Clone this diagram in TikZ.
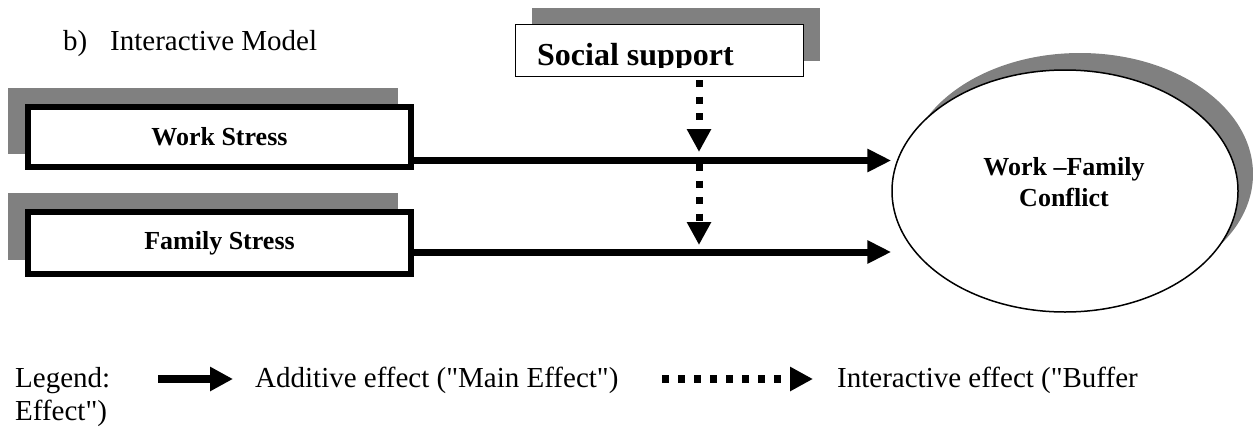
\documentclass[tikz,border=0pt]{standalone}
\usepackage{fontspec}
\setmainfont{Liberation Serif}[Ligatures=TeXOff]
\usetikzlibrary{arrows.meta,shapes.geometric}
\definecolor{shadowgray}{RGB}{128,128,128}
\tikzset{
  stressbox/.style={draw=black, line width=6pt, fill=white, rectangle, inner sep=0pt,
    minimum width=383pt, font=\fontsize{26}{30}\selectfont\bfseries},
  shadowbox/.style={fill=shadowgray, draw=none},
  mainarrow/.style={line width=7pt, -{Triangle[length=24pt,width=22pt]}},
  bufferarrow/.style={line width=7pt, dash pattern=on 7pt off 9.5pt, -{Triangle[length=23pt,width=23pt]}},
  plaintext/.style={inner sep=0pt, anchor=base west, font=\fontsize{29}{33}\selectfont},
}
\begin{document}
\begin{tikzpicture}[x=1pt,y=-1pt]
\useasboundingbox (0,0) rectangle (1253,426);
% title
\node[plaintext] (tb) at (63,50) {b)};
\node[plaintext] (tt) at (110,50) {Interactive Model};
% shadows
\fill[shadowgray] (8,88) rectangle (398,154);
\fill[shadowgray] (8,193) rectangle (398,260);
\fill[shadowgray] (532,8) rectangle (820,61);
\fill[shadowgray] (1080,174) ellipse [x radius=173, y radius=121];
% boxes
\node[stressbox, minimum height=60pt] (ws) at (219.5,137) {Work Stress};
\node[stressbox, minimum height=62pt] (fs) at (219.5,243) {Family Stress};
\node[draw=black, line width=1.3pt, fill=white, inner sep=0pt, minimum width=288pt, minimum height=52pt] (ss) at (659.5,50.5) {};
\begin{scope}
  \clip (516,25) rectangle (803,67);
  \node[inner sep=0pt, anchor=base west, font=\fontsize{32}{36}\selectfont\bfseries] (sstext) at (537,65.5) {Social support};
\end{scope}
% outcome ellipse
\node[ellipse, draw=black, line width=1.5pt, fill=white, inner sep=0pt, minimum width=346pt, minimum height=242pt] (wfc) at (1065,191) {};
\node[align=center, inner sep=0pt, font=\fontsize{26}{31}\selectfont\bfseries, anchor=base] (wfct) at (1064,206) {Work \textendash Family\\Conflict};
% connectors
\coordinate (m1) at (699,160.5);
\coordinate (m2) at (699,252);
\draw[mainarrow] (ws.east |- m1) -- (wfc.west |- m1);
\draw[mainarrow] (fs.east |- m2) -- (wfc.west |- m2);
\draw[bufferarrow] ([yshift=-3pt]ss.south -| m1) -- ([yshift=8.5pt]m1);
\draw[bufferarrow] ([yshift=-3.5pt]m1) -- ([yshift=7pt]m2);
% legend
\node[plaintext] (lg) at (15,387) {Legend:};
\coordinate (la1) at (158,379);
\coordinate (la2) at (233,379);
\draw[line width=8pt, -{Triangle[length=23pt,width=23pt]}] (la1) -- (la2);
\node[plaintext] (lt1) at (255,387) {Additive effect ("Main Effect")};
\coordinate (lb1) at (662,379);
\coordinate (lb2) at (813,379);
\draw[line width=8pt, dash pattern=on 7pt off 9pt, -{Triangle[length=23pt,width=23pt]}] (lb1) -- (lb2);
\node[plaintext] (lt2) at (837,387) {Interactive effect ("Buffer};
\node[plaintext] (lt3) at (15,420) {Effect")};
\end{tikzpicture}
\end{document}
